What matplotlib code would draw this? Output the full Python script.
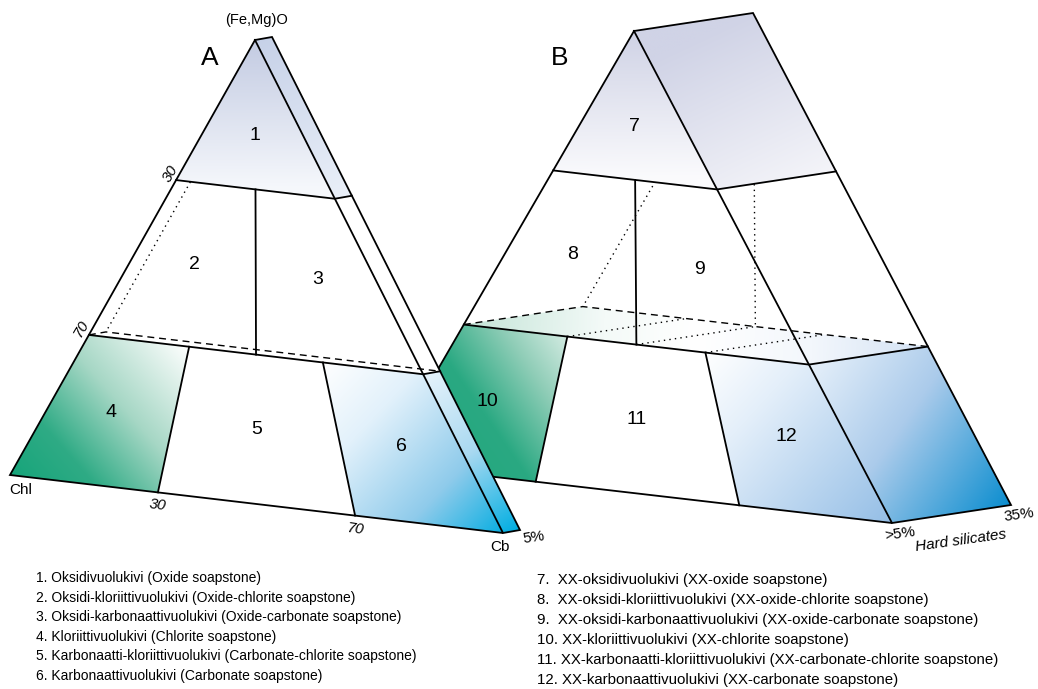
import numpy as np
import matplotlib
matplotlib.use("Agg")
import matplotlib.pyplot as plt
from matplotlib.patches import Polygon
from matplotlib.colors import to_rgb

# ---------------- data ----------------
oxide_levels = [30, 70]            # (Fe,Mg)O boundaries (% from apex)
carb_levels = [30, 70]             # Cb fraction boundaries along base
split_level = 50                   # oxide zone split (Chl | Cb)
regions_A = ["1", "2", "3", "4", "5", "6"]
regions_B = ["7", "8", "9", "10", "11", "12"]
legend_left = [
    "1. Oksidivuolukivi (Oxide soapstone)",
    "2. Oksidi-kloriittivuolukivi (Oxide-chlorite soapstone)",
    "3. Oksidi-karbonaattivuolukivi (Oxide-carbonate soapstone)",
    "4. Kloriittivuolukivi (Chlorite soapstone)",
    "5. Karbonaatti-kloriittivuolukivi (Carbonate-chlorite soapstone)",
    "6. Karbonaattivuolukivi (Carbonate soapstone)",
]
legend_right = [
    "7.  XX-oksidivuolukivi (XX-oxide soapstone)",
    "8.  XX-oksidi-kloriittivuolukivi (XX-oxide-chlorite soapstone)",
    "9.  XX-oksidi-karbonaattivuolukivi (XX-oxide-carbonate soapstone)",
    "10. XX-kloriittivuolukivi (XX-chlorite soapstone)",
    "11. XX-karbonaatti-kloriittivuolukivi (XX-carbonate-chlorite soapstone)",
    "12. XX-karbonaattivuolukivi (XX-carbonate soapstone)",
]
depth_labels = ["5%", ">5%", "35%"]

# ---------------- layout ----------------
W, H = 1038, 689
fig = plt.figure(figsize=(W / 100, H / 100), dpi=100)
ax = fig.add_axes([0, 0, 1, 1])
ax.set_xlim(0, W)
ax.set_ylim(H, 0)
ax.axis("off")

FONT = ["Liberation Sans", "DejaVu Sans"]


def warp(v):
    # drawn oxide axis is slightly compressed toward the middle
    return 0.5 + (v / 100.0 - 0.5) * 0.89


class Tri:
    def __init__(self, apex, left, right, depth):
        self.A = np.array(apex, float)
        self.L = np.array(left, float)
        self.R = np.array(right, float)
        self.D = np.array(depth, float)

    def pt(self, o, c, back=False):
        base = self.L + c * (self.R - self.L)
        p = self.A + o * (base - self.A)
        return p + self.D if back else p


def grad_fill(poly, stops, p0, p1, z):
    poly = np.array(poly, float)
    x0, y0 = poly.min(axis=0) - 1
    x1, y1 = poly.max(axis=0) + 1
    nx, ny = int(x1 - x0) + 2, int(y1 - y0) + 2
    xs = np.linspace(x0, x1, nx)
    ys = np.linspace(y0, y1, ny)
    X, Y = np.meshgrid(xs, ys)
    p0 = np.array(p0, float)
    v = np.array(p1, float) - p0
    s = ((X - p0[0]) * v[0] + (Y - p0[1]) * v[1]) / (v @ v)
    s = np.clip(s, 0, 1)
    pos = np.array([st[0] for st in stops])
    cols = np.array([to_rgb(st[1]) for st in stops])
    img = np.zeros((ny, nx, 3))
    for k in range(3):
        img[..., k] = np.interp(s, pos, cols[:, k])
    im = ax.imshow(img, extent=(x0, x1, y0, y1), origin="lower",
                   interpolation="bilinear", zorder=z, aspect="auto")
    patch = Polygon(poly, closed=True, transform=ax.transData)
    im.set_clip_path(patch)


def fill(poly, color, z):
    ax.add_patch(Polygon(poly, closed=True, facecolor=color, edgecolor="none", zorder=z))


def line(pts, z, ls="-", lw=1.3):
    pts = np.array(pts)
    if ls == ":":
        ax.plot(pts[:, 0], pts[:, 1], color="black", lw=1.0, zorder=z,
                linestyle=(0, (1, 3.0)), solid_capstyle="butt")
    elif ls == "--":
        ax.plot(pts[:, 0], pts[:, 1], color="black", lw=1.0, zorder=z,
                linestyle=(0, (5, 3.5)))
    else:
        ax.plot(pts[:, 0], pts[:, 1], color="black", lw=lw, zorder=z,
                solid_joinstyle="miter", solid_capstyle="projecting")


O1, O2 = warp(oxide_levels[0]), warp(oxide_levels[1])
C1, C2 = carb_levels[0] / 100, carb_levels[1] / 100
CM = split_level / 100


def regions(T):
    p = T.pt
    return [
        [p(0, 0.5), p(O1, 0), p(O1, 1)],
        [p(O1, 0), p(O1, CM), p(O2, CM), p(O2, 0)],
        [p(O1, CM), p(O1, 1), p(O2, 1), p(O2, CM)],
        [p(O2, 0), p(O2, C1), p(1, C1), p(1, 0)],
        [p(O2, C1), p(O2, C2), p(1, C2), p(1, C1)],
        [p(O2, C2), p(O2, 1), p(1, 1), p(1, C2)],
    ]


def side(T, oa, ob):
    p = T.pt
    return [p(oa, 1), p(oa, 1, True), p(ob, 1, True), p(ob, 1)]


def draw(T, zb, labels, style):
    p = T.pt
    R = regions(T)
    fill([T.A, T.L, T.R], "white", zb)
    fill(side(T, 0, 1), "white", zb)
    if style == "B":
        plane = [p(O2, 0), p(O2, 0, True), p(O2, 1, True), p(O2, 1)]
        grad_fill(plane, [(0, "#c3e4d7"), (0.3, "#f4faf8"), (0.5, "#ffffff"),
                          (0.75, "#f3f7fc"), (1, "#d3e2f4")],
                  p(O2, 0), p(O2, 1, True), zb + 0.5)
    # hidden lines
    line([p(O2, 0), p(O2, 0, True), p(O2, 1, True)], zb + 1, "--")
    line([p(O1, 0, True), p(O2, 0, True)], zb + 1, ":")
    if style == "B":
        line([p(O1, CM, True), p(O2, CM, True)], zb + 1, ":")
        for c in (C1, CM, C2):
            line([p(O2, c), p(O2, c, True)], zb + 1, ":")
    # coloured parts
    if style == "A":
        grad_fill(R[0], [(0, "#c3cbe2"), (1, "#f6f8fc")], T.A, p(O1, 0.5), zb + 2)
        grad_fill(side(T, 0, O1), [(0, "#c6d1e8"), (1, "#e9eff8")], T.A, p(O1, 1), zb + 2)
        grad_fill(R[3], [(0, "#14a479"), (0.28, "#2fab85"), (0.6, "#a6d7c5"), (1, "#ffffff")],
                  T.L + np.array([10, 20]), p(O2, C1), zb + 2)
        grad_fill(R[5], [(0, "#ffffff"), (0.3, "#e2f1fb"), (0.7, "#8fcbeb"), (1, "#08aee1")],
                  p(O2, C2), T.R, zb + 2)
        grad_fill(side(T, O2, 1), [(0, "#e6f3fb"), (0.5, "#a9d9f1"), (1, "#00aee2")],
                  p(O2, 1), T.R + T.D, zb + 2)
    else:
        grad_fill(R[0], [(0, "#cfd2e5"), (1, "#fbfbfd")], T.A, p(O1, 0.5), zb + 2)
        grad_fill(side(T, 0, O1), [(0, "#d0d3e6"), (1, "#f8f8fb")],
                  T.A + T.D, p(O1, 1, True) + np.array([0, 20]), zb + 2)
        grad_fill(R[3], [(0, "#1ba57a"), (0.5, "#2aa982"), (0.78, "#8fcdb7"), (1, "#d3ebe2")],
                  T.L, p(O2, C1), zb + 2)
        grad_fill(R[5], [(0, "#ffffff"), (0.3, "#e4effa"), (1, "#94bee6")],
                  p(O2, C2), T.R, zb + 2)
        grad_fill(side(T, O2, 1), [(0, "#e6f0fa"), (0.45, "#abcbeb"), (1, "#0a8dcf")],
                  p(O2, 1), T.R + T.D, zb + 2)
    # solid lines
    zl = zb + 3
    line([T.A, T.L, T.R, T.A], zl)
    line([T.A, T.A + T.D, T.R + T.D, T.R], zl)
    line([p(O1, 0), p(O1, 1), p(O1, 1, True)], zl)
    line([p(O2, 0), p(O2, 1), p(O2, 1, True)], zl)
    line([p(O1, CM), p(O2, CM)], zl)
    line([p(O2, C1), p(1, C1)], zl)
    line([p(O2, C2), p(1, C2)], zl)
    # region numbers
    for poly, lab in zip(R, labels):
        c = np.mean(np.array(poly), axis=0)
        if lab in ("1", "7"):
            c = T.A + 0.64 * (p(O1, 0.5) - T.A)
        ax.text(c[0], c[1], lab, ha="center", va="center",
                fontsize=14, family=FONT, zorder=zl + 1)
    return T


TB = Tri((634, 31), (383, 464), (892, 523), (119, -18))
TA = Tri((255, 40), (10, 475), (503, 533), (17, -3))
draw(TB, 1, regions_B, "B")
draw(TA, 10, regions_A, "A")

# ---------------- text ----------------
ax.text(257, 20, "(Fe,Mg)O", ha="center", va="center", fontsize=10.5, family=FONT)
ax.text(210, 58, "A", ha="center", va="center", fontsize=19, family=FONT)
ax.text(560, 58, "B", ha="center", va="center", fontsize=19, family=FONT)
ax.text(21, 490, "Chl", ha="center", va="center", fontsize=11, family=FONT)
ax.text(500, 547, "Cb", ha="center", va="center", fontsize=11, family=FONT)

for o, v, off in ((O1, oxide_levels[0], (-6, -6)), (O2, oxide_levels[1], (-8, -6))):
    q = TA.pt(o, 0)
    ax.text(q[0] + off[0], q[1] + off[1], str(v), ha="center", va="center",
            rotation=60, fontsize=11, style="italic", family=FONT, zorder=30)
for c, v in zip((C1, C2), carb_levels):
    b = TA.pt(1, c)
    ax.text(b[0], b[1] + 13, str(v), ha="center", va="center", rotation=-7,
            fontsize=11, style="italic", family=FONT, zorder=30)

ax.text(534, 538, depth_labels[0], ha="center", va="center", rotation=8,
        fontsize=11, family=FONT)
ax.text(900, 534, depth_labels[1], ha="center", va="center", rotation=8,
        fontsize=11, family=FONT)
ax.text(1019, 515, depth_labels[2], ha="center", va="center", rotation=8,
        fontsize=11, family=FONT)
ax.text(961, 541, "Hard silicates", ha="center", va="center", rotation=8,
        fontsize=11, style="italic", family=FONT)

# ---------------- legend ----------------
for i, s in enumerate(legend_left):
    ax.text(36, 578 + 19.6 * i, s, ha="left", va="center", fontsize=10, family=FONT)
for i, s in enumerate(legend_right):
    ax.text(537, 580 + 20.0 * i, s, ha="left", va="center", fontsize=10.8, family=FONT)

fig.savefig("out.png", dpi=100)
